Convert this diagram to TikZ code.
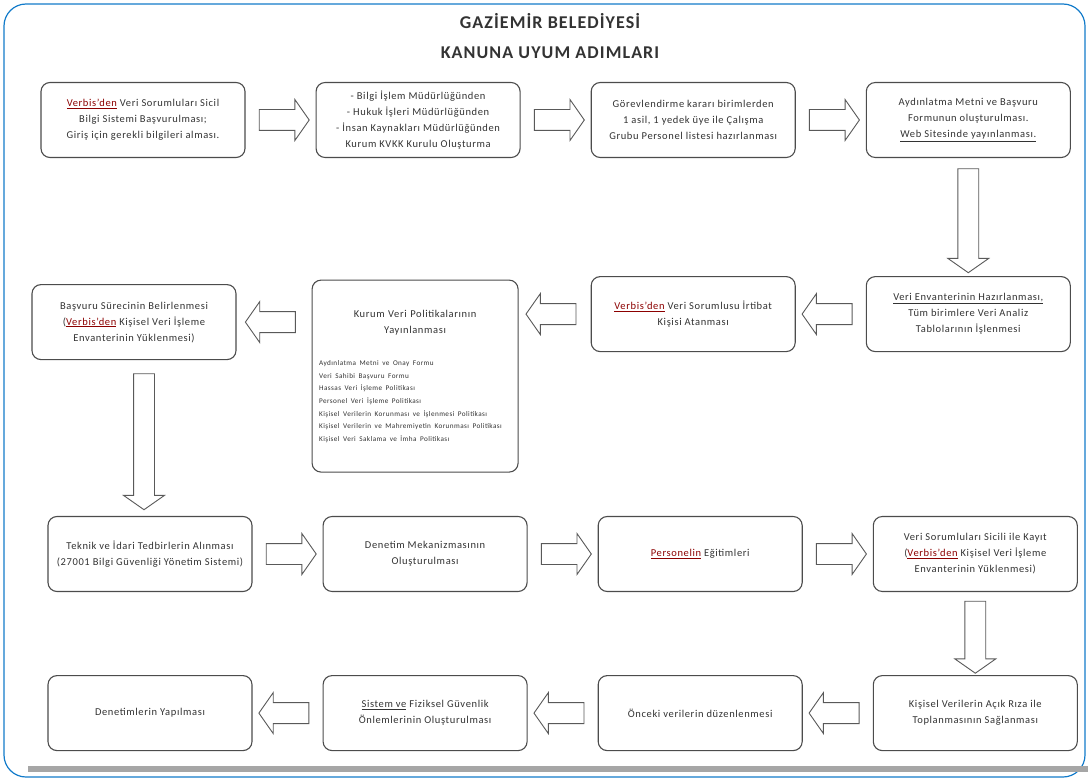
\documentclass[tikz,border=0pt]{standalone}
\usepackage{fontspec}
\setmainfont{Carlito}[LetterSpace=6]
\usetikzlibrary{shapes.arrows,positioning,calc}

% words flagged by the spell checker in the original
\newcommand{\hatali}[1]{{\color{red!55!black}\underline{#1}}}

\begin{document}
\begin{tikzpicture}[
    x=1pt, y=-1pt,
    font=\fontsize{10.5}{16}\selectfont,
    node distance=70pt,
    adim/.style={draw=black!70, line width=1.1pt, rounded corners=9pt, fill=white, minimum width=204pt, minimum height=75pt, align=center, text=black!80},
    okbas/.style={single arrow, draw=black!65, fill=white, line width=0.9pt, minimum width=40pt, inner sep=10pt, single arrow head extend=10pt, single arrow tip angle=110},
    sagok/.style={okbas, minimum height=50pt},
    solok/.style={okbas, minimum height=50pt, shape border rotate=180},
    asagiok/.style={okbas, shape border rotate=270}
]
\useasboundingbox (0,0) rectangle (1088,781);

% frame
\draw[cyan!60!blue, line width=1.2pt, rounded corners=22pt] (4,4) rectangle (1085,777);
\fill[black!35] (28,766) rectangle (1088,772);

\node[font=\fontsize{18}{30}\selectfont\bfseries, text=black!80, align=center] (baslik) at (550,36) {GAZİEMİR BELEDİYESİ\\KANUNA UYUM ADIMLARI};

% row 1
\node[adim] (b1) at (143,120) {\hatali{Verbis'den} Veri Sorumluları Sicil\\Bilgi Sistemi Başvurulması;\\Giriş için gerekli bilgileri alması.};
\node[adim, right=of b1] (b2) {- Bilgi İşlem Müdürlüğünden\\- Hukuk İşleri Müdürlüğünden\\- İnsan Kaynakları Müdürlüğünden\\Kurum KVKK Kurulu Oluşturma};
\node[adim, right=of b2] (b3) {Görevlendirme kararı birimlerden\\1 asil, 1 yedek üye ile Çalışma\\Grubu Personel listesi hazırlanması};
\node[adim, right=of b3] (b4) {Aydınlatma Metni ve Başvuru\\Formunun oluşturulması.\\\underline{Web Sitesinde yayınlanması.}};

% row 2
\node[adim, below=118pt of b4] (b5) {\underline{Veri Envanterinin Hazırlanması,}\\Tüm birimlere Veri Analiz\\Tablolarının İşlenmesi};
\node[adim, left=of b5] (b6) {\hatali{Verbis'den} Veri Sorumlusu İrtibat\\Kişisi Atanması};
\node[adim, left=72pt of b6, yshift=-62pt, minimum width=206pt, minimum height=192pt, text width=192pt, align=left] (b7) {%
    {\centering Kurum Veri Politikalarının\\Yayınlanması\par}
    \vspace{20pt}
    {\raggedright\fontsize{7.2}{12.6}\selectfont
    Aydınlatma Metni ve Onay Formu\\
    Veri Sahibi Başvuru Formu\\
    Hassas Veri İşleme Politikası\\
    Personel Veri İşleme Politikası\\
    Kişisel Verilerin Korunması ve İşlenmesi Politikası\\
    Kişisel Verilerin ve Mahremiyetin Korunması Politikası\\
    Kişisel Veri Saklama ve İmha Politikası\par}};
\node[adim, left=75pt of b7, yshift=54pt] (b8) {Başvuru Sürecinin Belirlenmesi\\(\hatali{Verbis'den} Kişisel Veri İşleme\\Envanterinin Yüklenmesi)};

% row 3
\node[adim] (b9) at (150,554) {Teknik ve İdari Tedbirlerin Alınması\\(27001 Bilgi Güvenliği Yönetim Sistemi)};
\node[adim, right=of b9] (b10) {Denetim Mekanizmasının\\Oluşturulması};
\node[adim, right=of b10] (b11) {\hatali{Personelin} Eğitimleri};
\node[adim, right=of b11] (b12) {Veri Sorumluları Sicili ile Kayıt\\(\hatali{Verbis'den} Kişisel Veri İşleme\\Envanterinin Yüklenmesi)};

% row 4
\node[adim, below=83pt of b12] (b13) {Kişisel Verilerin Açık Rıza ile\\Toplanmasının Sağlanması};
\node[adim, left=of b13] (b14) {Önceki verilerin düzenlenmesi};
\node[adim, left=of b14] (b15) {\underline{Sistem ve} Fiziksel Güvenlik\\Önlemlerinin Oluşturulması};
\node[adim, left=of b15] (b16) {Denetimlerin Yapılması};

% block arrows
\node[sagok] (o12) at ($(b1.east)!0.5!(b2.west)$) {};
\node[sagok] (o23) at ($(b2.east)!0.5!(b3.west)$) {};
\node[sagok] (o34) at ($(b3.east)!0.5!(b4.west)$) {};
\node[asagiok, minimum height=104pt] (o45) at ($(b4.south)!0.5!(b5.north)$) {};
\node[solok] (o56) at ($(b5.west)!0.5!(b6.east)$) {};
\node[solok] (o67) at ($(b6.west)!0.5!(b7.east |- b6.west)$) {};
\node[solok] (o78) at ($(b7.west |- b8.east)!0.5!(b8.east)$) {};
\node[asagiok, minimum height=136pt, xshift=10pt] (o89) at ($(b8.south)!0.5!(b8.south |- b9.north)$) {};
\node[sagok] (o910) at ($(b9.east)!0.5!(b10.west)$) {};
\node[sagok] (o1011) at ($(b10.east)!0.5!(b11.west)$) {};
\node[sagok] (o1112) at ($(b11.east)!0.5!(b12.west)$) {};
\node[asagiok, minimum height=72pt] (o1213) at ($(b12.south)!0.5!(b13.north)$) {};
\node[solok] (o1314) at ($(b13.west)!0.5!(b14.east)$) {};
\node[solok] (o1415) at ($(b14.west)!0.5!(b15.east)$) {};
\node[solok] (o1516) at ($(b15.west)!0.5!(b16.east)$) {};
\end{tikzpicture}
\end{document}
